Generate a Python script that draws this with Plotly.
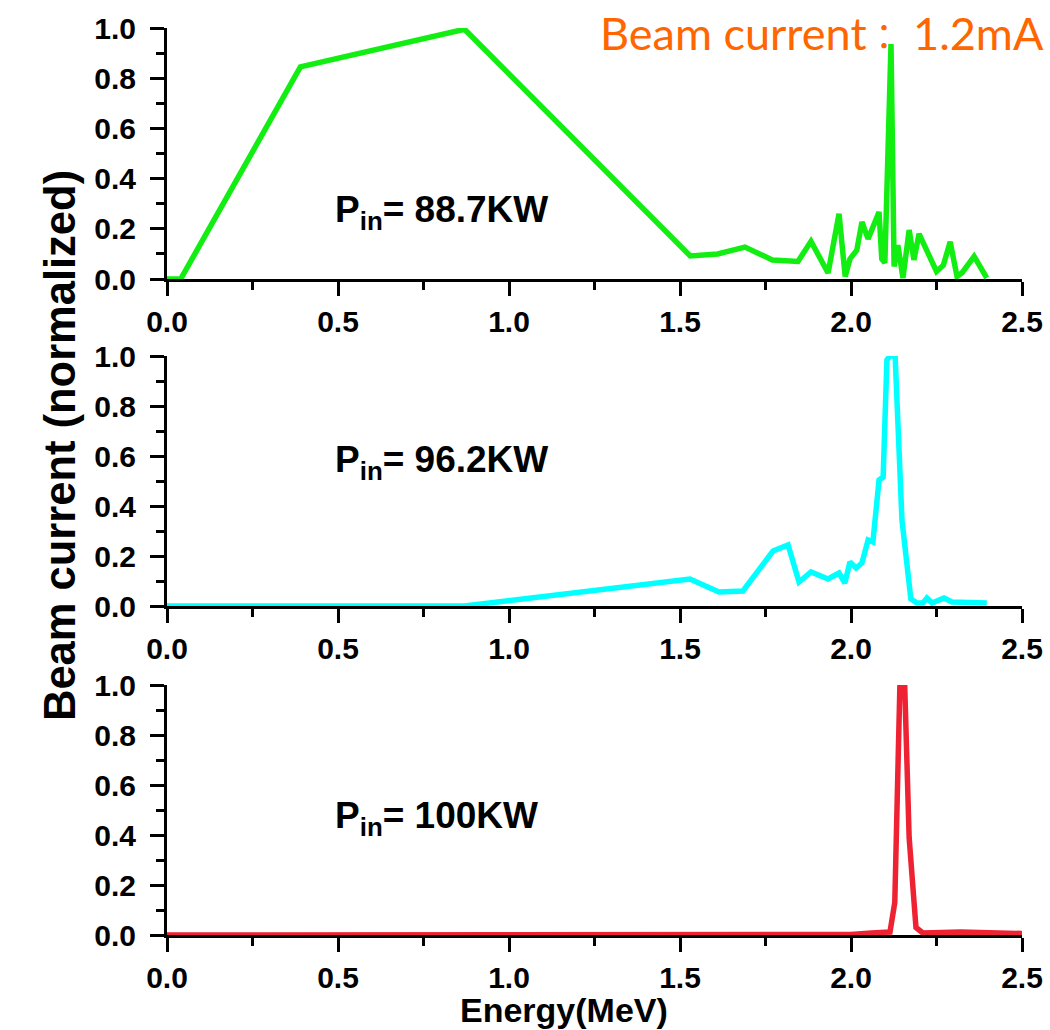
import plotly.graph_objects as go

# Energy spectra (MeV) and normalized beam current for three input powers
energy_887 = [0.0, 0.04, 0.39, 0.87, 1.53, 1.61, 1.69, 1.77, 1.845, 1.883, 1.933, 1.965,
              1.983, 1.997, 2.017, 2.032, 2.05, 2.082, 2.09, 2.099, 2.117, 2.126, 2.137,
              2.152, 2.17, 2.184, 2.199, 2.25, 2.27, 2.29, 2.31, 2.325, 2.36, 2.397]
current_887 = [0.0, 0.0, 0.845, 0.995, 0.092, 0.1, 0.127, 0.076, 0.07, 0.15, 0.024, 0.26,
               0.01, 0.08, 0.115, 0.227, 0.16, 0.267, 0.08, 0.064, 0.936, 0.05, 0.135,
               0.004, 0.195, 0.076, 0.18, 0.03, 0.055, 0.148, 0.01, 0.025, 0.09, 0.004]

energy_962 = [0.0, 0.87, 1.529, 1.614, 1.684, 1.772, 1.816, 1.848, 1.883, 1.933, 1.965,
              1.982, 1.997, 2.015, 2.032, 2.05, 2.064, 2.082, 2.094, 2.105, 2.114, 2.129,
              2.149, 2.175, 2.193, 2.21, 2.222, 2.237, 2.272, 2.295, 2.397]
current_962 = [0.0, 0.0, 0.108, 0.056, 0.06, 0.22, 0.244, 0.096, 0.136, 0.108, 0.132,
               0.092, 0.176, 0.152, 0.172, 0.264, 0.256, 0.504, 0.516, 0.984, 1.0, 1.0,
               0.344, 0.028, 0.012, 0.012, 0.032, 0.012, 0.032, 0.016, 0.012]

energy_100 = [0.0, 2.0, 2.06, 2.114, 2.128, 2.143, 2.157, 2.17, 2.19, 2.21, 2.32, 2.5]
current_100 = [0.0, 0.002, 0.008, 0.012, 0.13, 1.0, 1.0, 0.39, 0.03, 0.008, 0.012, 0.006]

power_labels = ["P<sub>in</sub>= 88.7KW", "P<sub>in</sub>= 96.2KW", "P<sub>in</sub>= 100KW"]
label_pos = [(0.485, 0.267), (0.485, 0.576), (0.485, 0.468)]
x_ticks = [0.0, 0.5, 1.0, 1.5, 2.0, 2.5]
y_ticks = [0.0, 0.2, 0.4, 0.6, 0.8, 1.0]

W, H = 1050, 1030
x_dom = [167 / W, 1022 / W]
y_doms = [[1 - 279 / H, 1 - 28 / H],
          [1 - 606 / H, 1 - 356 / H],
          [1 - 935 / H, 1 - 685 / H]]

series = [(energy_887, current_887, "#12EE12"),
          (energy_962, current_962, "#00FFFF"),
          (energy_100, current_100, "#EE2233")]

FONT = "Liberation Sans, Arial, sans-serif"

fig = go.Figure()
layout_axes = {}
for i, (xs, ys, col) in enumerate(series):
    n = "" if i == 0 else str(i + 1)
    fig.add_trace(go.Scatter(x=xs, y=ys, mode="lines", xaxis="x" + n, yaxis="y" + n,
                             line=dict(color=col, width=5.5), showlegend=False))
    common = dict(showline=True, linecolor="black", linewidth=3, mirror=False,
                  ticks="outside", ticklen=14, tickwidth=3, tickcolor="black",
                  showgrid=False, zeroline=False, layer="below traces", automargin=False,
                  tickfont=dict(family=FONT, size=30, color="black", weight="bold"))
    layout_axes["xaxis" + n] = dict(
        domain=x_dom, range=[0, 2.5], anchor="y" + n, tickvals=x_ticks,
        ticktext=[f"{v:.1f}" for v in x_ticks],
        minor=dict(ticks="outside", ticklen=8, tickwidth=3, tickcolor="black", dtick=0.25,
                   tick0=0, showgrid=False),
        **common)
    layout_axes["yaxis" + n] = dict(
        domain=y_doms[i], range=[0, 1.0], anchor="x" + n, tickvals=y_ticks,
        ticktext=[f"{v:.1f}" for v in y_ticks],
        ticklabelposition="outside", ticklabelstandoff=8,
        minor=dict(ticks="outside", ticklen=8, tickwidth=3, tickcolor="black", dtick=0.1,
                   tick0=0, showgrid=False),
        **common)

annotations = []
for i, (txt, (ax_, ay_)) in enumerate(zip(power_labels, label_pos)):
    n = "" if i == 0 else str(i + 1)
    annotations.append(dict(x=ax_, y=ay_, xref="x" + n, yref="y" + n, text=txt,
                            showarrow=False, xanchor="left", yanchor="middle",
                            font=dict(family=FONT, size=37, color="black", weight="bold")))

annotations.append(dict(x=60 / W, y=1 - 446 / H, xref="paper", yref="paper",
                        text="Beam current (normalized)", textangle=-90, showarrow=False,
                        xanchor="center", yanchor="middle",
                        font=dict(family=FONT, size=43.5, color="black", weight="bold")))
annotations.append(dict(x=564 / W, y=1 - 1010 / H, xref="paper", yref="paper",
                        text="Energy(MeV)", showarrow=False, xanchor="center", yanchor="middle",
                        font=dict(family=FONT, size=34, color="black", weight="bold")))
annotations.append(dict(x=1046 / W, y=1 - 33 / H, xref="paper", yref="paper",
                        text="Beam current<span style='font-family:Noto Sans CJK TC;"
                             "font-size:35px'>\uff1a</span> 1.2mA",
                        showarrow=False, xanchor="right", yanchor="middle",
                        font=dict(family="Lato, Noto Sans CJK TC, sans-serif", size=45,
                                  color="#FF6600")))

fig.update_layout(width=W, height=H, margin=dict(l=0, r=0, t=0, b=0),
                  paper_bgcolor="white", plot_bgcolor="white",
                  annotations=annotations, **layout_axes)

fig.write_html("out.html")
